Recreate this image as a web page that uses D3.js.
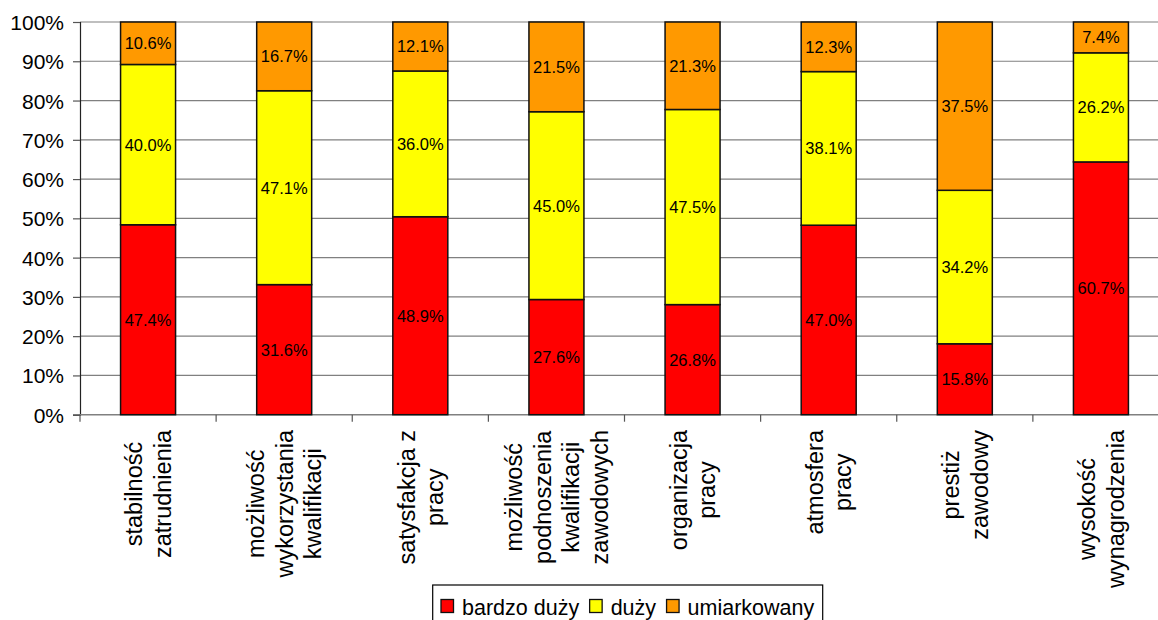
<!DOCTYPE html>
<html><head><meta charset="utf-8">
<script src="https://cdn.jsdelivr.net/npm/d3@7"></script>
<style>
html,body{margin:0;padding:0;background:#fff;}
svg{display:block;font-family:"Liberation Sans",Arial,sans-serif;}
</style></head>
<body>
<svg id="chart" width="1158" height="620"></svg>
<script>
const categories = [
  ["stabilność","zatrudnienia"],
  ["możliwość","wykorzystania","kwalifikacji"],
  ["satysfakcja z","pracy"],
  ["możliwość","podnoszenia","kwalifikacji","zawodowych"],
  ["organizacja","pracy"],
  ["atmosfera","pracy"],
  ["prestiż","zawodowy"],
  ["wysokość","wynagrodzenia"]
];
const seriesNames = ["bardzo duży","duży","umiarkowany"];
const bardzoDuzy = [47.4, 31.6, 48.9, 27.6, 26.8, 47.0, 15.8, 60.7];
const duzy       = [40.0, 47.1, 36.0, 45.0, 47.5, 38.1, 34.2, 26.2];
const umiarkowany= [10.6, 16.7, 12.1, 21.5, 21.3, 12.3, 37.5, 7.4];
const yTicks = [0,0.1,0.2,0.3,0.4,0.5,0.6,0.7,0.8,0.9,1.0];
const colors = ["#FF0000","#FFFF00","#FF9900"];

const svg = d3.select("#chart");
const x0 = 80, xEnd = 1169, yTop = 22, yBot = 414.7;
const keys = categories.map((c,i)=>"c"+i);
const x = d3.scaleBand().domain(keys).range([x0,xEnd]).paddingInner(0.596).paddingOuter(0.298);
const y = d3.scaleLinear().domain([0,1]).range([yBot,yTop]);

const rows = keys.map((k,i)=>({key:k, s0:bardzoDuzy[i], s1:duzy[i], s2:umiarkowany[i]}));
const stack = d3.stack().keys(["s0","s1","s2"]).offset(d3.stackOffsetExpand);
const series = stack(rows);

// gridlines
svg.append("g").selectAll("line").data(yTicks.filter(t=>t>0)).join("line")
  .attr("x1",x0).attr("x2",xEnd).attr("y1",d=>y(d)).attr("y2",d=>y(d))
  .attr("stroke","#808080").attr("stroke-width",1.2);

// y axis
const yAxis = d3.axisLeft(y).tickValues(yTicks).tickFormat(d3.format(".0%")).tickSize(7).tickPadding(9);
const yg = svg.append("g").attr("transform",`translate(${x0},0)`).call(yAxis);
yg.select(".domain").attr("stroke","#222").attr("stroke-width",1.2);
yg.selectAll(".tick line").attr("stroke","#555").attr("stroke-width",1.2);
yg.selectAll(".tick text").attr("font-size","21px").attr("font-family","Liberation Sans, Arial, sans-serif").attr("fill","#000").attr("dy","0.36em");

// x axis line and ticks between categories
svg.append("line").attr("x1",x0).attr("x2",xEnd).attr("y1",yBot).attr("y2",yBot)
  .attr("stroke","#808080").attr("stroke-width",1.4);
const step = x.step();
const bounds = d3.range(keys.length+1).map(i=>x0 + i*step);
svg.append("g").selectAll("line").data(bounds).join("line")
  .attr("x1",d=>d).attr("x2",d=>d).attr("y1",yBot).attr("y2",yBot+7)
  .attr("stroke","#555").attr("stroke-width",1.2);

// bars
const sg = svg.append("g").selectAll("g").data(series).join("g").attr("fill",(d,i)=>colors[i]);
sg.selectAll("rect").data(d=>d).join("rect")
  .attr("x",d=>x(d.data.key)).attr("width",x.bandwidth())
  .attr("y",d=>y(d[1])).attr("height",d=>y(d[0])-y(d[1]))
  .attr("stroke","#111").attr("stroke-width",1.5);

// data labels
const raw = [bardzoDuzy, duzy, umiarkowany];
series.forEach((s,si)=>{
  svg.append("g").selectAll("text").data(s).join("text")
    .attr("x",d=>x(d.data.key)+x.bandwidth()/2)
    .attr("y",d=>(y(d[0])+y(d[1]))/2)
    .attr("dy","0.36em")
    .attr("text-anchor","middle")
    .attr("font-size","16.5px")
    .attr("fill","#000")
    .text((d,i)=>raw[si][i].toFixed(1)+"%");
});

// category labels (centered lines, top of longest line at y=430)
const lineH = 28.5;
categories.forEach((lines,i)=>{
  const cx = x(keys[i]) + x.bandwidth()/2;
  const g = svg.append("g");
  const n = lines.length;
  const ts = g.selectAll("text").data(lines).join("text")
    .attr("x",0)
    .attr("y",(d,j)=>(j-(n-1)/2)*lineH)
    .attr("dy","0.36em")
    .attr("text-anchor","middle")
    .attr("font-size","23.5px")
    .attr("fill","#000")
    .text(d=>d);
  const maxLen = d3.max(ts.nodes(), nd=>nd.getComputedTextLength());
  g.attr("transform",`translate(${cx},${430 + maxLen/2}) rotate(-90)`);
});

// legend
const lg = svg.append("g");
lg.append("rect").attr("x",432.7).attr("y",585).attr("width",390).attr("height",60)
  .attr("fill","#fff").attr("stroke","#000").attr("stroke-width",1.2);
let lx = 441;
seriesNames.forEach((name,i)=>{
  lg.append("rect").attr("x",lx).attr("y",599.5).attr("width",12.5).attr("height",13)
    .attr("fill",colors[i]).attr("stroke","#111").attr("stroke-width",1.3);
  const t = lg.append("text").attr("x",lx+21).attr("y",614.5).attr("font-size","21.5px").attr("fill","#000").text(name);
  lx = lx + 21 + t.node().getComputedTextLength() + 10.5;
});
</script>
</body></html>
